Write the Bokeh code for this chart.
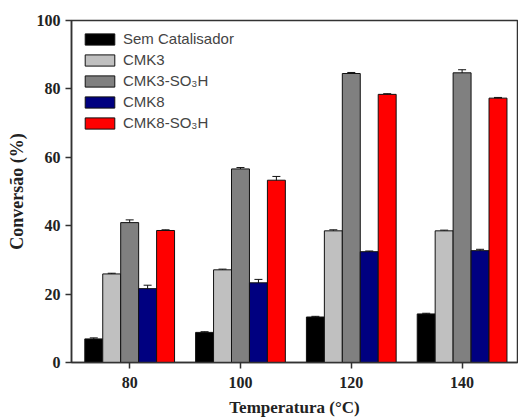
from bokeh.plotting import figure
from bokeh.models import ColumnDataSource, Whisker, Legend, LegendItem, FixedTicker, Range1d, TeeHead
from bokeh.transform import dodge
from bokeh.embed import file_html
from bokeh.resources import INLINE

temps = [80, 100, 120, 140]
series_names = ["Sem Catalisador", "CMK3", "CMK3-SO\u2083H", "CMK8", "CMK8-SO\u2083H"]
colors = ["#000000", "#c0c0c0", "#808080", "#000080", "#ff0000"]

sem_cat = [6.9, 8.8, 13.3, 14.2]
sem_cat_err = [0.3, 0.2, 0.2, 0.2]
cmk3 = [25.9, 27.1, 38.5, 38.5]
cmk3_err = [0.2, 0.2, 0.3, 0.2]
cmk3_so3h = [40.9, 56.6, 84.5, 84.7]
cmk3_so3h_err = [0.8, 0.4, 0.3, 0.9]
cmk8 = [21.6, 23.3, 32.4, 32.7]
cmk8_err = [1.0, 1.0, 0.2, 0.4]
cmk8_so3h = [38.6, 53.3, 78.4, 77.3]
cmk8_so3h_err = [0.2, 1.1, 0.2, 0.2]

values = [sem_cat, cmk3, cmk3_so3h, cmk8, cmk8_so3h]
errors = [sem_cat_err, cmk3_err, cmk3_so3h_err, cmk8_err, cmk8_so3h_err]

bar_w = 3.24

p = figure(width=518, height=419, output_backend="svg", toolbar_location=None,
           x_range=Range1d(69.5, 150.0), y_range=Range1d(0, 100),
           min_border_left=71, min_border_right=1, min_border_top=20, min_border_bottom=56)

items = []
for i, (name, col, vals, errs) in enumerate(zip(series_names, colors, values, errors)):
    src = ColumnDataSource(dict(temp=temps, val=vals,
                                upper=[v + e for v, e in zip(vals, errs)],
                                lower=[v - e for v, e in zip(vals, errs)]))
    off = (i - 2) * bar_w
    r = p.vbar(x=dodge("temp", off), top="val", width=bar_w, source=src,
               fill_color=col, line_color="#111111", line_width=1)
    w = Whisker(base=dodge("temp", off), upper="upper", lower="lower", source=src,
                line_color="#111111", line_width=1,
                upper_head=TeeHead(size=8, line_color="#111111", line_width=1),
                lower_head=TeeHead(size=8, line_color="#111111", line_width=1))
    p.add_layout(w)
    items.append(LegendItem(label=name, renderers=[r]))

legend = Legend(items=items, location="top_left", margin=10, padding=0,
                glyph_width=37, glyph_height=14, label_height=14, spacing=4,
                label_standoff=5, label_text_font="Liberation Sans",
                label_text_font_size="15px", border_line_color=None,
                background_fill_alpha=0)
p.add_layout(legend)

p.grid.visible = False
p.outline_line_color = "#333333"
p.outline_line_width = 1.5

p.xaxis.ticker = FixedTicker(ticks=temps)
p.yaxis.ticker = FixedTicker(ticks=[0, 20, 40, 60, 80, 100])
for ax in (p.xaxis[0], p.yaxis[0]):
    ax.axis_line_color = "#333333"
    ax.axis_line_width = 1.5
    ax.major_tick_line_color = "#333333"
    ax.major_tick_line_width = 1.5
    ax.major_tick_out = 6
    ax.major_tick_in = 0
    ax.minor_tick_line_color = None
    ax.major_label_text_font = "Liberation Serif"
    ax.major_label_text_font_style = "bold"
    ax.major_label_text_font_size = "16px"
    ax.major_label_text_color = "#222222"
    ax.axis_label_text_font = "Liberation Serif"
    ax.axis_label_text_font_style = "bold"
    ax.axis_label_text_color = "#222222"
    ax.major_label_standoff = 8
    ax.axis_label_standoff = 7

p.yaxis.major_label_standoff = 5
p.xaxis.axis_label = "Temperatura (\u00b0C)"
p.yaxis.axis_label = "Convers\u00e3o (%)"
p.xaxis.axis_label_text_font_size = "17px"
p.yaxis.axis_label_text_font_size = "18px"

open("out.html", "w").write(file_html(p, INLINE))
